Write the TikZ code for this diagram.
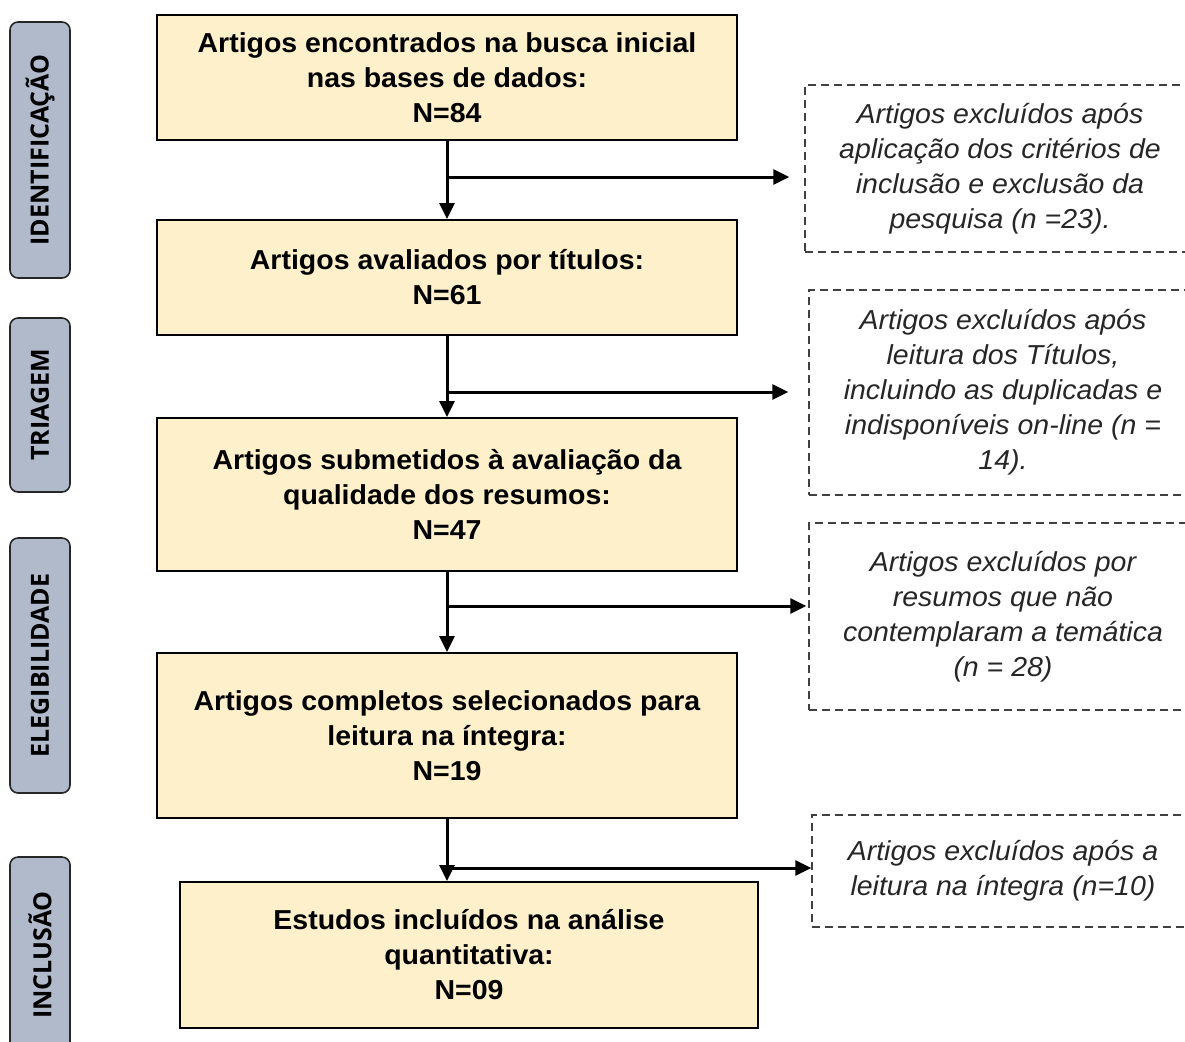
\documentclass[tikz,border=0pt]{standalone}
\usepackage{fontspec}
\setmainfont{Liberation Sans}[FakeStretch=1.04]
\newfontfamily\stagefont{Open Sans}
\usetikzlibrary{arrows.meta,positioning}

\definecolor{boxfill}{HTML}{FFF0CC}
\definecolor{stagefill}{HTML}{B0BACB}

\begin{document}
\begin{tikzpicture}
[x=0.5pt, y=-0.5pt,
stage/.style={draw=black!85, line width=0.8pt, fill=stagefill, rounded corners=4pt, rotate=90, inner sep=0pt, minimum height=30pt, font=\stagefont\bfseries\fontsize{12.5}{14}\selectfont},
mainbox/.style={draw, line width=1pt, fill=boxfill, inner sep=0pt, minimum width=290pt, align=center, font=\bfseries\fontsize{13.7}{17.5}\selectfont},
exclbox/.style={draw=black!75, dash pattern=on 4pt off 2.5pt, line width=0.7pt, inner sep=0pt, minimum width=194pt, align=center, text=black!85, font=\itshape\fontsize{13.7}{17.5}\selectfont},
arr/.style={-{Triangle[length=8pt,width=7.5pt]}, line width=1.5pt}]

\useasboundingbox (0,0) rectangle (1185,1041);

% etapas
\node[stage, minimum width=128pt] (sid) at(40,150) {IDENTIFICAÇÃO};
\node[stage, minimum width=87pt] (stri) at(40,405) {TRIAGEM};
\node[stage, minimum width=127.5pt] (sele) at(40,665.5) {ELEGIBILIDADE};
\node[stage, minimum width=98pt] (sinc) at(40,955) {INCLUSÃO};

% caixas principais
\node[mainbox, minimum height=62.5pt] (b1) at(447,77.5) {Artigos encontrados na busca inicial\\nas bases de dados:\\N=84};
\node[mainbox, minimum height=57.5pt] (b2) at(447,277.5) {Artigos avaliados por títulos:\\N=61};
\node[mainbox, minimum height=76.5pt] (b3) at(447,494.5) {Artigos submetidos à avaliação da\\qualidade dos resumos:\\N=47};
\node[mainbox, minimum height=82.5pt] (b4) at(447,735.5) {Artigos completos selecionados para\\leitura na íntegra:\\N=19};
\node[mainbox, minimum width=289pt, minimum height=73pt] (b5) at(469,955) {Estudos incluídos na análise\\quantitativa:\\N=09};

% excluidos
\node[exclbox, minimum width=195pt, minimum height=83.5pt] (d1) at(1000,168.5) {Artigos excluídos após\\aplicação dos critérios de\\inclusão e exclusão da\\pesquisa (n =23).};
\node[exclbox, minimum height=102.5pt] (d2) at(1003,392.5) {Artigos excluídos após\\leitura dos Títulos,\\incluindo as duplicadas e\\indisponíveis on-line (n =\\14).};
\node[exclbox, minimum height=93.5pt] (d3) at(1003,616.5) {Artigos excluídos por\\resumos que não\\contemplaram a temática\\(n = 28)};
\node[exclbox, minimum width=191pt, minimum height=56pt] (d4) at(1003,871) {Artigos excluídos após a\\leitura na íntegra (n=10)};

\coordinate (j1) at(447,177);
\coordinate (j2) at(447,392);
\coordinate (j3) at(447,606);
\coordinate (j4) at(447,868);

\draw[arr] (b1.south) -- (b1.south |- b2.north);
\draw[arr] (b2.south) -- (b2.south |- b3.north);
\draw[arr] (b3.south) -- (b3.south |- b4.north);
\draw[arr] (b4.south) -- (b4.south |- b5.north);

\draw[arr, shorten >=7.5pt] (j1) -- (d1.west |- j1);
\draw[arr, shorten >=10pt] (j2) -- (d2.west |- j2);
\draw[arr, shorten >=1pt] (j3) -- (d3.west |- j3);
\draw[arr] (j4) -- (d4.west |- j4);
\end{tikzpicture}
\end{document}
